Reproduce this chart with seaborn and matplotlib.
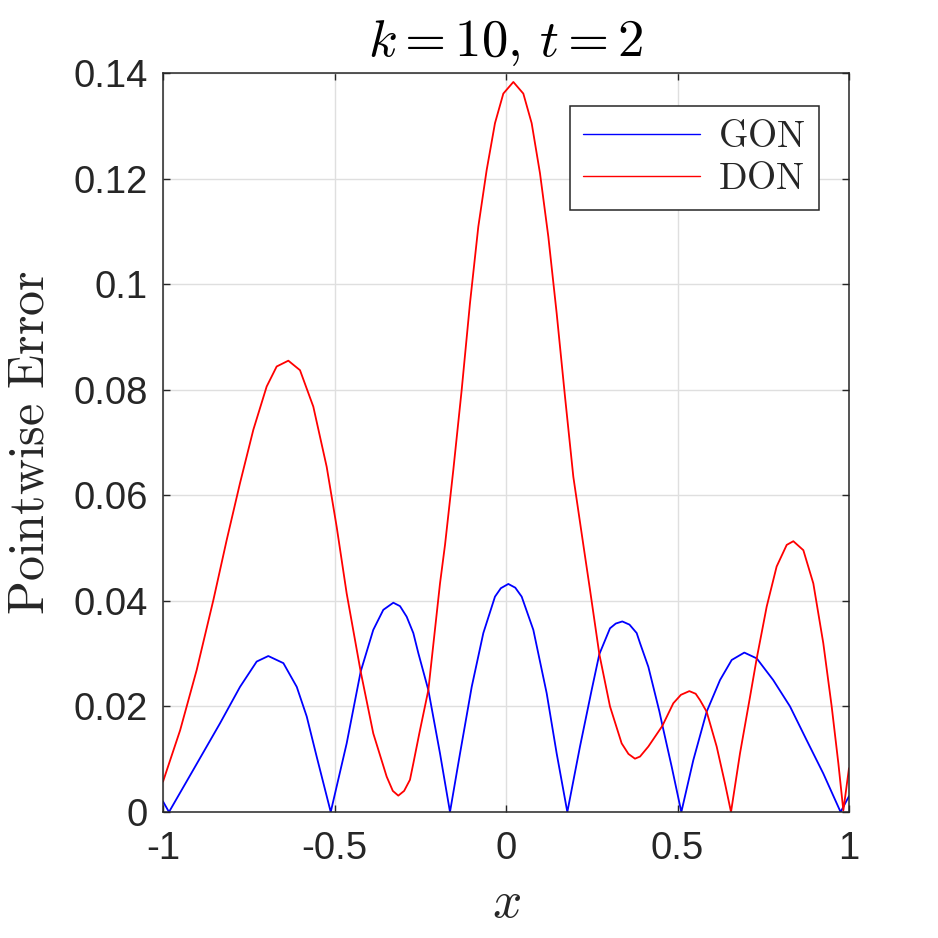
import pandas as pd
import matplotlib
matplotlib.use('Agg')
import matplotlib.pyplot as plt
import seaborn as sns

# Pointwise error curves (k=10, t=2)
gon_x = [-1.0, -0.9825, -0.9116, -0.8338, -0.7755, -0.7269, -0.693, -0.649, -0.610, -0.581, -0.552, -0.511,
         -0.4645, -0.4237, -0.387, -0.3577, -0.3285, -0.309, -0.2896, -0.2702, -0.2556, -0.2264, -0.1924, -0.1633,
         -0.134, -0.100, -0.0661, -0.0321, -0.015, 0.0068, 0.027, 0.0457, 0.0797, 0.1186, 0.1477, 0.1788,
         0.2157, 0.2497, 0.2721, 0.3032, 0.32, 0.3391, 0.36, 0.381, 0.3907, 0.415, 0.4295, 0.447, 0.4557, 0.483, 0.5112,
         0.546, 0.585, 0.624, 0.658, 0.6948, 0.731, 0.779, 0.828, 0.8766, 0.925, 0.9755, 1.0]
gon_y = [0.0020, 0.0, 0.0080, 0.0168, 0.0237, 0.0285, 0.02955, 0.0282, 0.0237, 0.0181, 0.0105, 0.0,
         0.0130, 0.0266, 0.0345, 0.0383, 0.03965, 0.0390, 0.0370, 0.0339, 0.0301, 0.0231, 0.0111, 0.0,
         0.0111, 0.0237, 0.0339, 0.0408, 0.0424, 0.0432, 0.0425, 0.0408, 0.0345, 0.0225, 0.0111, 0.0,
         0.0124, 0.0231, 0.0299, 0.0348, 0.0357, 0.0361, 0.0355, 0.0339, 0.0320, 0.0275, 0.0237, 0.0191, 0.0165, 0.0086, 0.0,
         0.0098, 0.0190, 0.0250, 0.0288, 0.0302, 0.0291, 0.0250, 0.0200, 0.0136, 0.0073, 0.0, 0.0030]

don_x = [-1.0, -0.950, -0.9018, -0.853, -0.8144, -0.7755, -0.7367, -0.6978, -0.6686, -0.6346, -0.6006,
         -0.5618, -0.5228, -0.4936, -0.4645, -0.4237, -0.387, -0.3479, -0.33, -0.314, -0.297, -0.280, -0.2702, -0.2527,
         -0.2264, -0.1924, -0.1778, -0.1536, -0.1293, -0.105, -0.0807, -0.0564, -0.0321, -0.0078, 0.0214,
         0.0505, 0.0748, 0.0991, 0.1234, 0.1477, 0.172, 0.1963, 0.2255, 0.2449, 0.2721, 0.3032, 0.3372,
         0.357, 0.376, 0.3907, 0.415, 0.4557, 0.4878, 0.51, 0.5345, 0.553, 0.5656, 0.585, 0.6142, 0.6385, 0.656,
         0.6822, 0.7114, 0.731, 0.760, 0.789, 0.8184, 0.8377, 0.8669, 0.896, 0.925, 0.9495, 0.969, 0.9835, 1.0]
don_y = [0.00575, 0.0155, 0.0269, 0.0402, 0.0515, 0.0623, 0.0724, 0.0806, 0.0844, 0.0855, 0.0837,
         0.0768, 0.0654, 0.0540, 0.0414, 0.0266, 0.0149, 0.0067, 0.0040, 0.0031, 0.0040, 0.0061, 0.0092, 0.0149,
         0.0231, 0.0433, 0.0506, 0.0648, 0.0799, 0.0964, 0.1109, 0.1216, 0.1305, 0.1361, 0.1383,
         0.1361, 0.1305, 0.1210, 0.1090, 0.0945, 0.0787, 0.0635, 0.0506, 0.0421, 0.0299, 0.0200, 0.0130,
         0.0110, 0.0101, 0.0105, 0.0124, 0.0163, 0.0206, 0.0222, 0.0229, 0.0224, 0.0212, 0.0190, 0.0124, 0.0054, 0.0,
         0.0111, 0.0218, 0.0291, 0.0389, 0.0465, 0.0506, 0.0513, 0.0496, 0.0433, 0.0320, 0.0200, 0.0092, 0.0003, 0.0083]

x_ticks = [-1, -0.5, 0, 0.5, 1]
x_ticklabels = ['-1', '-0.5', '0', '0.5', '1']
y_ticks = [0, 0.02, 0.04, 0.06, 0.08, 0.1, 0.12, 0.14]
y_ticklabels = ['0', '0.02', '0.04', '0.06', '0.08', '0.1', '0.12', '0.14']

df = pd.concat([
    pd.DataFrame({'x': gon_x, 'err': gon_y, 'method': 'GON'}),
    pd.DataFrame({'x': don_x, 'err': don_y, 'method': 'DON'}),
], ignore_index=True)

sns.set_style('white')
plt.rcParams['font.family'] = ['Liberation Sans', 'DejaVu Sans']
plt.rcParams['mathtext.fontset'] = 'cm'

dark = '#262626'

fig = plt.figure(figsize=(9.38, 9.38), dpi=100)
ax = fig.add_axes([163 / 938, 1 - 812 / 938, 686 / 938, 739 / 938])

sns.lineplot(data=df, x='x', y='err', hue='method', palette={'GON': 'blue', 'DON': 'red'},
             estimator=None, sort=False, linewidth=1.3, ax=ax)

ax.set_xlim(-1, 1)
ax.set_ylim(0, 0.14)
ax.set_xticks(x_ticks)
ax.set_xticklabels(x_ticklabels)
ax.set_yticks(y_ticks)
ax.set_yticklabels(y_ticklabels)
ax.tick_params(direction='in', length=5, width=1.0, color=dark, labelcolor=dark,
               labelsize=27.5, top=True, right=True, bottom=True, left=True)
ax.tick_params(axis='x', pad=14)
ax.tick_params(axis='y', pad=11)
ax.grid(True, color='#dfdfdf', linewidth=1.0)
for s in ax.spines.values():
    s.set_visible(True)
    s.set_color(dark)
    s.set_linewidth(1.1)

ax.set_title(r'$k=10,\,t=2$', fontsize=38, pad=12, color='black')
ax.set_xlabel(r'$x$', fontsize=37, labelpad=8, color=dark)
ax.set_ylabel(r'$\mathrm{Pointwise\ Error}$', fontsize=36, labelpad=14, color=dark)

handles, _ = ax.get_legend_handles_labels()
for h in handles:
    h.set_linewidth(1.0)
leg = ax.legend(handles, [r'$\mathrm{GON}$', r'$\mathrm{DON}$'], loc='upper right',
                bbox_to_anchor=(819 / 938, 1 - 106 / 938), bbox_transform=fig.transFigure,
                fontsize=27, handlelength=3.1, handletextpad=0.5, borderpad=0.35,
                labelspacing=0.15, fancybox=False, framealpha=1, edgecolor=dark,
                borderaxespad=0)
leg.get_frame().set_linewidth(1.1)

fig.savefig('out.png', dpi=100)
